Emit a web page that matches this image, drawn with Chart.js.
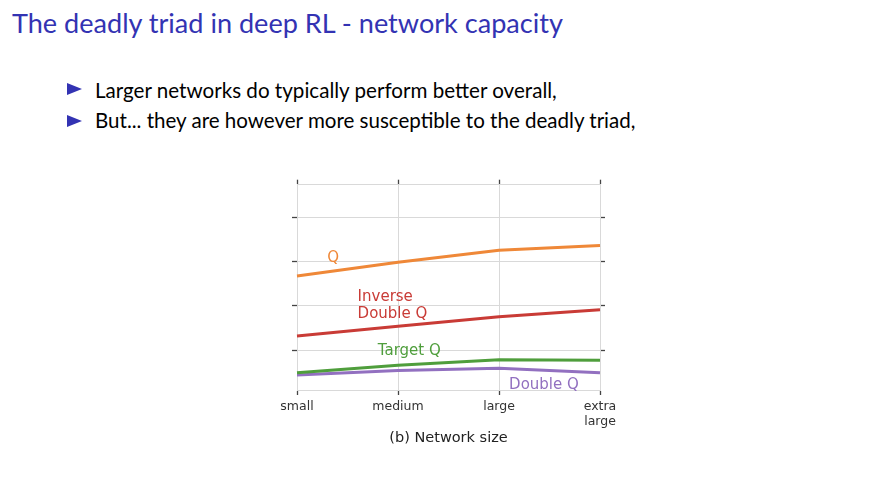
<!DOCTYPE html>
<html>
<head>
<meta charset="utf-8">
<script src="https://cdn.jsdelivr.net/npm/chart.js@4"></script>
<style>
  body { margin: 0; width: 890px; height: 493px; background: #fff; position: relative; overflow: hidden; font-family: "Lato", sans-serif; }
  #title { position: absolute; left: 12px; top: 6px; color: #3333b3; font-size: 26px; white-space: nowrap; }
  .bullet { position: absolute; left: 95px; color: #000; font-size: 20px; white-space: nowrap; }
  .tri { position: absolute; left: 67px; width: 0; height: 0; border-top: 6px solid transparent; border-bottom: 6px solid transparent; border-left: 15px solid #3333b3; }
  #wrap { position: absolute; left: 247px; top: 174px; width: 400px; height: 280px; }
</style>
</head>
<body>
<div id="title">The deadly triad in deep RL - network capacity</div>
<div class="tri" style="top:83px"></div>
<div class="bullet" id="b1" style="top:78px">Larger networks do typically perform better overall,</div>
<div class="tri" style="top:115px"></div>
<div class="bullet" id="b2" style="top:108px">But... they are however more susceptible to the deadly triad,</div>
<div id="wrap"><canvas id="chart"></canvas></div>
<script>
// network sizes on the x axis
const sizes = ['small', 'medium', 'large', ['extra', 'large']];
const yTicks = [1, 2, 3, 4];

// values (unlabelled y axis)
const qValues = [2.67, 2.98, 3.25, 3.36];
const inverseDoubleQValues = [1.32, 1.54, 1.75, 1.91];
const targetQValues = [0.49, 0.66, 0.78, 0.77];
const doubleQValues = [0.44, 0.54, 0.59, 0.49];

const seriesNames = ['Q', 'Inverse Double Q', 'Target Q', 'Double Q'];
const seriesColors = ['#ef8838', '#c93b36', '#4f9e3c', '#9270c0'];

// fit slide text widths to the reference
function fitWidth(id, target) {
    const el = document.getElementById(id);
    const size = parseFloat(getComputedStyle(el).fontSize);
    el.style.fontSize = (size * target / el.getBoundingClientRect().width) + 'px';
}
fitWidth('title', 551);
fitWidth('b1', 462);
fitWidth('b2', 541);

// in-plot labels, placed in data coordinates (x index, y value)
const labelPlugin = {
    id: 'seriesLabels',
    afterDatasetsDraw(chart) {
        const { ctx, scales: { x, y } } = chart;
        const labels = [
            { lines: ['Q'], x: 0.30, y: 3.07, color: seriesColors[0] },
            { lines: ['Inverse', 'Double Q'], x: 0.60, y: 2.19, color: seriesColors[1] },
            { lines: ['Target Q'], x: 0.80, y: 0.97, color: seriesColors[2] },
            { lines: ['Double Q'], x: 2.10, y: 0.21, color: seriesColors[3] }
        ];
        ctx.save();
        ctx.font = '15px "DejaVu Sans"';
        ctx.textAlign = 'left';
        ctx.textBaseline = 'middle';
        labels.forEach(l => {
            ctx.fillStyle = l.color;
            const px = x.left + (x.right - x.left) * l.x / (sizes.length - 1);
            l.lines.forEach((line, i) => {
                ctx.fillText(line, px, y.getPixelForValue(l.y) + i * 16.5);
            });
        });
        ctx.restore();
    }
};

const gridColor = '#d9d9d9';
const tickColor = '#444';

new Chart(document.getElementById('chart').getContext('2d'), {
    type: 'line',
    data: {
        labels: sizes,
        datasets: [qValues, inverseDoubleQValues, targetQValues, doubleQValues].map((values, i) => ({
            label: seriesNames[i],
            data: values,
            borderColor: seriesColors[i],
            borderWidth: 3,
            pointRadius: 0,
            tension: 0,
            fill: false
        }))
    },
    options: {
        responsive: true,
        maintainAspectRatio: false,
        animation: false,
        layout: { padding: 0 },
        plugins: { legend: { display: false }, tooltip: { enabled: false } },
        scales: {
            x: {
                position: 'bottom',
                offset: false,
                grid: { color: gridColor, tickColor: tickColor, tickLength: 5, tickWidth: 1.3 },
                border: { color: gridColor },
                ticks: { color: '#333', font: { family: 'DejaVu Sans', size: 12.5 }, maxRotation: 0, padding: 4 },
                title: { display: true, text: '(b) Network size', color: '#222', font: { family: 'DejaVu Sans', size: 14.5 }, padding: { top: 2, bottom: 7 } },
                afterFit: s => { s.height = 64; }
            },
            xTop: {
                type: 'category',
                position: 'top',
                offset: false,
                grid: { display: true, color: 'transparent', tickColor: tickColor, tickLength: 5, tickWidth: 1.3 },
                border: { color: gridColor },
                ticks: { callback: () => '' },
                afterFit: s => { s.height = 10.7; }
            },
            y: {
                min: 0.1,
                max: 4.73,
                afterBuildTicks: s => { s.ticks = yTicks.map(v => ({ value: v })); },
                grid: { color: gridColor, tickColor: tickColor, tickLength: 5, tickWidth: 1.3 },
                border: { color: gridColor },
                ticks: { callback: () => '' },
                afterFit: s => { s.width = 50; }
            },
            yRight: {
                position: 'right',
                min: 0.1,
                max: 4.73,
                afterBuildTicks: s => { s.ticks = yTicks.map(v => ({ value: v })); },
                grid: { display: true, color: 'transparent', tickColor: tickColor, tickLength: 5, tickWidth: 1.3 },
                border: { color: gridColor },
                ticks: { callback: () => '' },
                afterFit: s => { s.width = 47; }
            }
        }
    },
    plugins: [labelPlugin]
});
</script>
</body>
</html>
